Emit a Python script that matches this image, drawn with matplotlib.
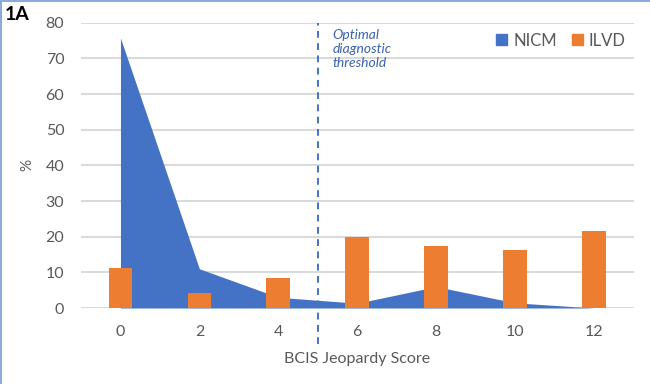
import matplotlib
matplotlib.use("Agg")
import matplotlib.pyplot as plt
from matplotlib.patches import Patch
from matplotlib.lines import Line2D

plt.rcParams['font.family'] = ['Lato', 'DejaVu Sans']

scores = [0, 2, 4, 6, 8, 10, 12]
nicm = [75.7, 11.0, 3.0, 1.35, 6.0, 1.45, 0.0]
ilvd = [11.1, 4.2, 8.4, 19.9, 17.4, 16.4, 21.6]
yticks = [0, 10, 20, 30, 40, 50, 60, 70, 80]
threshold = 5

blue = '#4472C4'
orange = '#ED7D31'
grid = '#D9D9D9'
txt = '#595959'

fig = plt.figure(figsize=(6.5, 3.84), dpi=100)
ax = fig.add_axes([81/650, 1-308/384, (633.5-81)/650, (308-22.7)/384])

for y in yticks:
    ax.axhline(y, color=grid, lw=1.4, zorder=0)

ax.fill_between(scores, nicm, 0, color=blue, lw=0, zorder=2)
ax.bar(scores, ilvd, width=0.6, color=orange, zorder=3)

ax.plot([threshold, threshold], [-10, 80], color=blue, lw=1.4,
        ls=(0, (3.5, 2.8)), clip_on=False, zorder=4)

ax.text(threshold + 0.38, 78.2, 'Optimal\ndiagnostic\nthreshold', color='#3A62B0',
        style='italic', fontsize=10, va='top', ha='left', linespacing=1.2)

ax.set_xlim(-1, 13)
ax.set_ylim(0, 80)
ax.set_xticks(scores)
ax.set_xticklabels([str(s) for s in scores])
ax.set_yticks(yticks)
ax.tick_params(length=0, labelsize=11.5, colors=txt)
ax.tick_params(axis='y', pad=12)
ax.tick_params(axis='x', pad=12)
for s in ax.spines.values():
    s.set_visible(False)
ax.set_facecolor('none')

fig.text(357/650, 1-359/384, 'BCIS Jeopardy Score', ha='center', va='center',
         fontsize=11.5, color=txt)
fig.text(27/650, 1-165/384, '%', ha='center', va='center', rotation=90,
         fontsize=11, color=txt)
fig.text(5/650, 1-15/384, '1A', ha='left', va='center', fontsize=14,
         fontweight='bold', color='black')

handles = [Patch(color=blue, label='NICM'), Patch(color=orange, label='ILVD')]
leg = ax.legend(handles=handles, loc='center right', bbox_to_anchor=(0.985, 75/80),
                ncol=2, frameon=False, fontsize=12, handlelength=0.65,
                handleheight=0.65, handletextpad=0.35, columnspacing=0.9,
                borderaxespad=0, borderpad=0)
for t in leg.get_texts():
    t.set_color(txt)

# image frame (left/top)
fig.add_artist(Line2D([0.002, 0.002], [0, 1], transform=fig.transFigure,
                      color='#8EA9DB', lw=1.5))
fig.add_artist(Line2D([0, 1], [0.998, 0.998], transform=fig.transFigure,
                      color='#8EA9DB', lw=1.5))

fig.savefig('out.png', dpi=100)
